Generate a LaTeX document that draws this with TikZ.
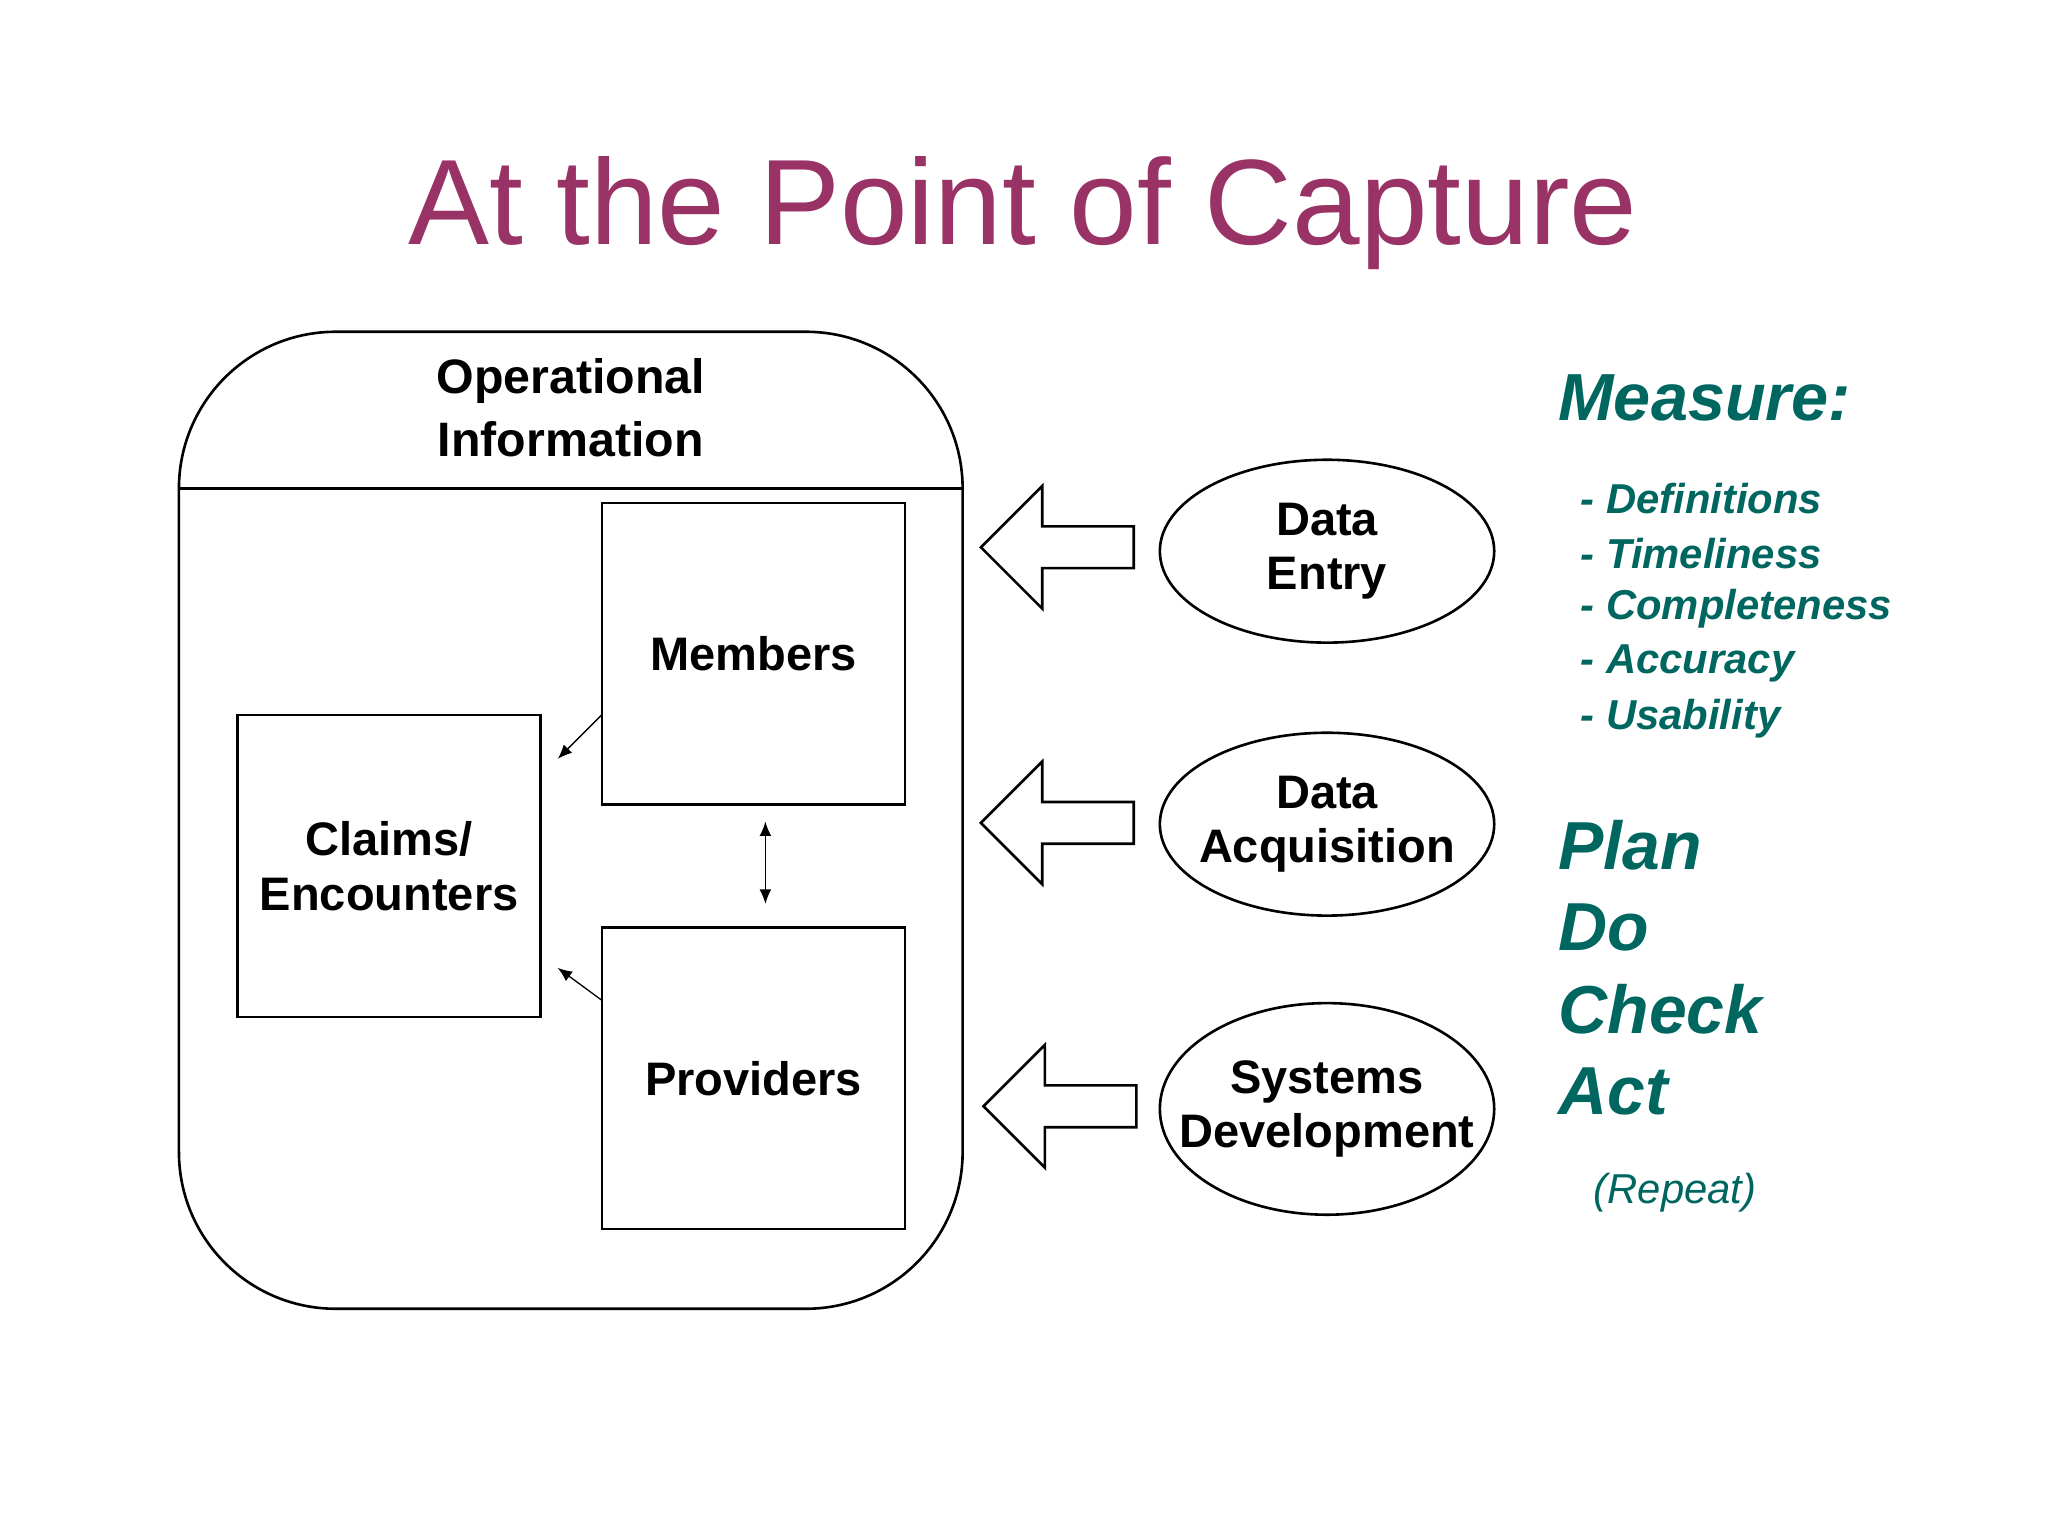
\documentclass[tikz,border=0pt]{standalone}
\usepackage{fontspec}
\setmainfont{Liberation Sans}
\usetikzlibrary{shapes.geometric,arrows.meta}
\definecolor{ttl}{HTML}{993366}
\definecolor{tl}{HTML}{006660}
\begin{document}
\begin{tikzpicture}[x=1pt,y=-1pt,
  box/.style={draw,line width=2pt,minimum width=232pt,minimum height=231pt,inner sep=0pt},
  lbl/.style={font=\fontsize{36}{42}\selectfont\bfseries,align=center},
  ell/.style={draw,line width=2pt,ellipse,minimum width=256pt,inner sep=0pt},
  big/.style={draw,line width=2pt,line join=miter},
  thin/.style={line width=1pt,-{Latex[length=11pt,width=9pt]}},
  tt/.style={text=tl,font=\bfseries\itshape,anchor=west,inner sep=0pt}]
\useasboundingbox (0,0) rectangle (1568,1176);
\node[text=ttl,font=\fontsize{93}{100}\selectfont] (title) at (783,163) {At the Point of Capture};
\draw[line width=2pt,rounded corners=120pt] (137,254) rectangle (737,1002);
\draw[line width=2pt] (137,374) -- (737,374);
\node[lbl,font=\fontsize{37}{48}\selectfont\bfseries] (op) at (437,312) {Operational\\Information};
\node[box] (mem) at (577,500.5) {};
\node[lbl] at (mem) {Members};
\node[box] (cl) at (298,663) {};
\node[lbl] at (cl) {Claims/\\Encounters};
\node[box] (pr) at (577,825.5) {};
\node[lbl] at (pr) {Providers};
\coordinate (m1) at (461,547); \coordinate (c1) at (427,581);
\coordinate (p1) at (461,766); \coordinate (c2) at (427,741);
\coordinate (d1) at (586,629); \coordinate (d2) at (586,692);
\draw[thin] (m1) -- (c1);
\draw[thin] (p1) -- (c2);
\draw[thin,{Latex[length=11pt,width=9pt]}-{Latex[length=11pt,width=9pt]}] (d1) -- (d2);
\foreach \y/\t/\e in {419/751/868,630/751/868,847/753/870}{
  \draw[big] (\t,\y) -- (\t+47,\y-47) -- (\t+47,\y-16) -- (\e,\y-16) -- (\e,\y+16) -- (\t+47,\y+16) -- (\t+47,\y+47) -- cycle;}
\node[ell,minimum height=140pt] (de) at (1016,422) {};
\node[lbl] at (de) {Data\\Entry};
\node[ell,minimum height=140pt] (da) at (1016,631) {};
\node[lbl] at (da) {Data\\Acquisition};
\node[ell,minimum height=162pt] (sd) at (1016,849) {};
\node[lbl] at (sd) {Systems\\Development};
\node[tt,font=\fontsize{51}{60}\selectfont\bfseries\itshape] (ms) at (1193,305) {Measure:};
\foreach \y/\s in {382/Definitions,424/Timeliness,466/Completeness,508/Accuracy,550/Usability}
  \node[tt,font=\fontsize{32}{36}\selectfont\bfseries\itshape] at (1210,\y) {- \s};
\foreach \y/\s in {647/Plan,710/Do,773/Check,836/Act}
  \node[tt,font=\fontsize{52}{60}\selectfont\bfseries\itshape] at (1193,\y) {\s};
\node[tt,font=\fontsize{32}{36}\selectfont\itshape] (rp) at (1220,913) {(Repeat)};
\end{tikzpicture}
\end{document}
